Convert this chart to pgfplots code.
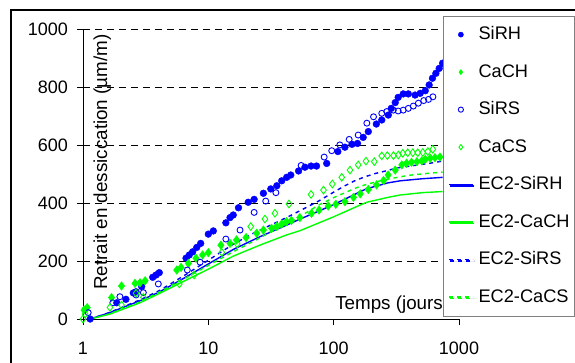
\documentclass[border=0pt]{standalone}
\usepackage{fontspec}
\setmainfont{Liberation Sans}
\usepackage{pgfplots}
\pgfplotsset{compat=1.18}
\usetikzlibrary{shadows}
\definecolor{mblue}{RGB}{0,0,255}
\definecolor{mgreen}{RGB}{0,255,0}
\begin{document}
\fontsize{18}{21}\selectfont
\begin{tikzpicture}
\begin{axis}[
  at={(0,0)}, anchor=south west,
  scale only axis, width=376pt, height=289.7pt,
  xmode=log, xmin=1, xmax=1000, ymin=0, ymax=1000,
  axis lines=left, axis line style={-, line width=0.8pt},
  xtick={1,10,100,1000}, xticklabels={1,10,100,1000},
  xminorticks=false,
  ytick={0,200,400,600,800,1000},
  tick align=outside, major tick length=6pt,
  tick style={black, line width=0.8pt},
  ymajorgrids,
  major grid style={black, dash pattern=on 7pt off 5pt, line width=0.8pt},
  /pgf/number format/assume math mode=true,
  /pgf/number format/1000 sep={},
  tick label style={font=\fontsize{18}{21}\selectfont},
  yticklabel style={inner sep=0pt, anchor=east, xshift=-9pt},
  xticklabel style={inner sep=0pt, anchor=north, yshift=-17pt},
  clip=false,
  legend style={at={(axis description cs:0.9574,1.047)}, anchor=north west,
    draw=gray, fill=white, font=\fontsize{18.2}{21}\selectfont,
    inner xsep=5pt, inner ysep=0pt, column sep=5pt, row sep=0pt,
    drop shadow={shadow xshift=1.5pt, shadow yshift=-1.5pt, fill=black!60, opacity=1},
    nodes={inner sep=0pt, minimum height=37.5pt, anchor=west}},
  legend image code/.code={\draw[mark repeat=2,mark phase=2,#1] plot coordinates {(0pt,0pt) (12pt,0pt) (24pt,0pt)};},
  legend image post style={mark size=2.6pt},
]
% SiRH
\addplot[only marks, mark=*, color=mblue, mark size=3.4pt] coordinates {
(1.14,0) (1.86,56) (2.20,68) (2.52,90) (2.65,94) (2.94,112) (3.60,144) (3.83,152) (4.06,160)
(6.64,210) (7.05,221) (7.50,232) (8.08,247) (8.69,261) (10.0,293) (10.96,304)
(13.8,332) (14.9,350) (15.8,359) (17.4,384) (20.8,403) (23.2,413) (27.5,434)
(31.5,449) (35.2,460) (38.5,477) (42.2,489) (45.5,497) (52.5,511) (59.0,524)
(66.0,528) (73.0,528) (88,537) (108,578) (123,593) (140,603) (155,606) (172,627)
(189,647) (219,673) (242,687) (273,704) (288,727) (310,747) (327,765) (359,777)
(394,777) (446,773) (490,779) (538,788) (578,808) (614,831) (654,848) (695,865) (740,883)
};
\addlegendentry{SiRH}
% CaCH
\addplot[only marks, mark=diamond*, color=mgreen, mark size=4.3pt] coordinates {
(1.02,31) (1.08,39) (1.69,74) (2.03,114) (2.60,123) (2.85,125) (3.13,132)
(5.6,169) (6.06,178) (6.93,192) (7.97,210) (9.0,221) (10,229) (12.6,255)
(14.9,261) (16.8,273) (20,281) (24.3,296) (27.5,307) (32,313) (35,319) (38.5,328)
(42,336) (46,340) (53.7,350) (66.6,365) (76.5,376) (90.5,390) (104,396) (123,405)
(144,420) (163,432) (189,447) (220,463) (250,478) (272,497) (310,514) (350,532)
(382,538) (418,541) (461,543) (505,546) (538,551) (590,555) (643,557) (705,559)
};
\addlegendentry{CaCH}
% SiRS
\addplot[only marks, mark=o, color=mblue, mark size=3pt, line width=0.9pt] coordinates {
(1.10,22) (1.73,56) (1.97,77) (2.65,83) (3.03,91) (3.99,121) (6.8,169) (8.6,196)
(13.8,276) (17.9,307) (23.2,368) (28.7,407) (34.6,436) (55,530) (84,559) (96.5,581)
(112,601) (133,620) (157,635) (184,676) (208,698) (242,710) (265,716) (299,721)
(327,718) (359,721) (394,727) (432,735) (474,745) (523,754) (571,758) (619,767)
};
\addlegendentry{SiRS}
% CaCS
\addplot[only marks, mark=diamond, color=mgreen, mark size=3.8pt, line width=0.9pt] coordinates {
(1.0,0) (1.04,17) (1.64,40) (2.03,48) (2.65,89) (3.03,75) (5.87,121) (7.7,152)
(12.8,230) (17.0,259) (21.8,319) (28.3,345) (34,365) (44,397) (66,430) (83,445)
(97.6,466) (116,489) (135,514) (157,532) (181,545) (211,543) (242,563) (268,564)
(300,564) (328,566) (356,572) (390,574) (428,574) (469,574) (514,575) (564,578) (618,586)
};
\addlegendentry{CaCS}
% EC2-SiRH
\addplot[no marks, color=mblue, line width=1.4pt] coordinates {
(1.14,0) (1.64,22) (2.85,63) (4.1,94) (6.7,146) (10,190) (15.8,240) (25.8,284)
(42,324) (54,345) (99,394) (162,439) (184,450) (272,470) (339,477) (505,484) (740,489)
};
\addlegendentry{EC2-SiRH}
% EC2-CaCH
\addplot[no marks, color=mgreen, line width=1.4pt] coordinates {
(1.14,0) (1.64,17) (2.85,56) (4.1,89) (6.7,135) (10,172) (15.8,217) (25.8,255)
(42,290) (54,305) (99,352) (162,393) (184,403) (272,420) (339,428) (505,436) (740,440)
};
\addlegendentry{EC2-CaCH}
% EC2-SiRS
\addplot[no marks, color=mblue, line width=1.4pt, dash pattern=on 4pt off 4pt] coordinates {
(1.14,0) (1.64,23) (2.85,66) (4.1,99) (6.7,155) (10,203) (15.8,258) (22.9,296)
(42,350) (50.7,368) (75,406) (102,440) (123,460) (147,477) (178,491) (214,502)
(265,512) (327,522) (573,537) (740,545)
};
\addlegendentry{EC2-SiRS}
% EC2-CaCS
\addplot[no marks, color=mgreen, line width=1.4pt, dash pattern=on 4pt off 4pt] coordinates {
(1.14,0) (1.64,18) (2.85,59) (4.1,94) (6.7,143) (10,185) (15.8,232) (25.8,280)
(29,292) (42,328) (61,368) (75,392) (106,424) (156,455) (184,465) (250,480)
(396,496) (570,503) (740,507)
};
\addlegendentry{EC2-CaCS}
\node[anchor=base west, inner sep=0pt, font=\fontsize{18.8}{21}\selectfont] at (axis cs:102.6,33.5) {Temps (jours)};
\node[rotate=90, anchor=base west, inner sep=0pt, font=\fontsize{18.8}{21}\selectfont] at (axis cs:1.555,100.1) {Retrait en dessiccation (µm/m)};
\end{axis}
\draw[line width=2pt] (-72pt,-60pt) -- (-72pt,309pt) -- (520pt,309pt);
\pgfresetboundingbox
\path[use as bounding box] (-83pt,-43pt) rectangle (492pt,319pt);
\end{tikzpicture}
\end{document}
